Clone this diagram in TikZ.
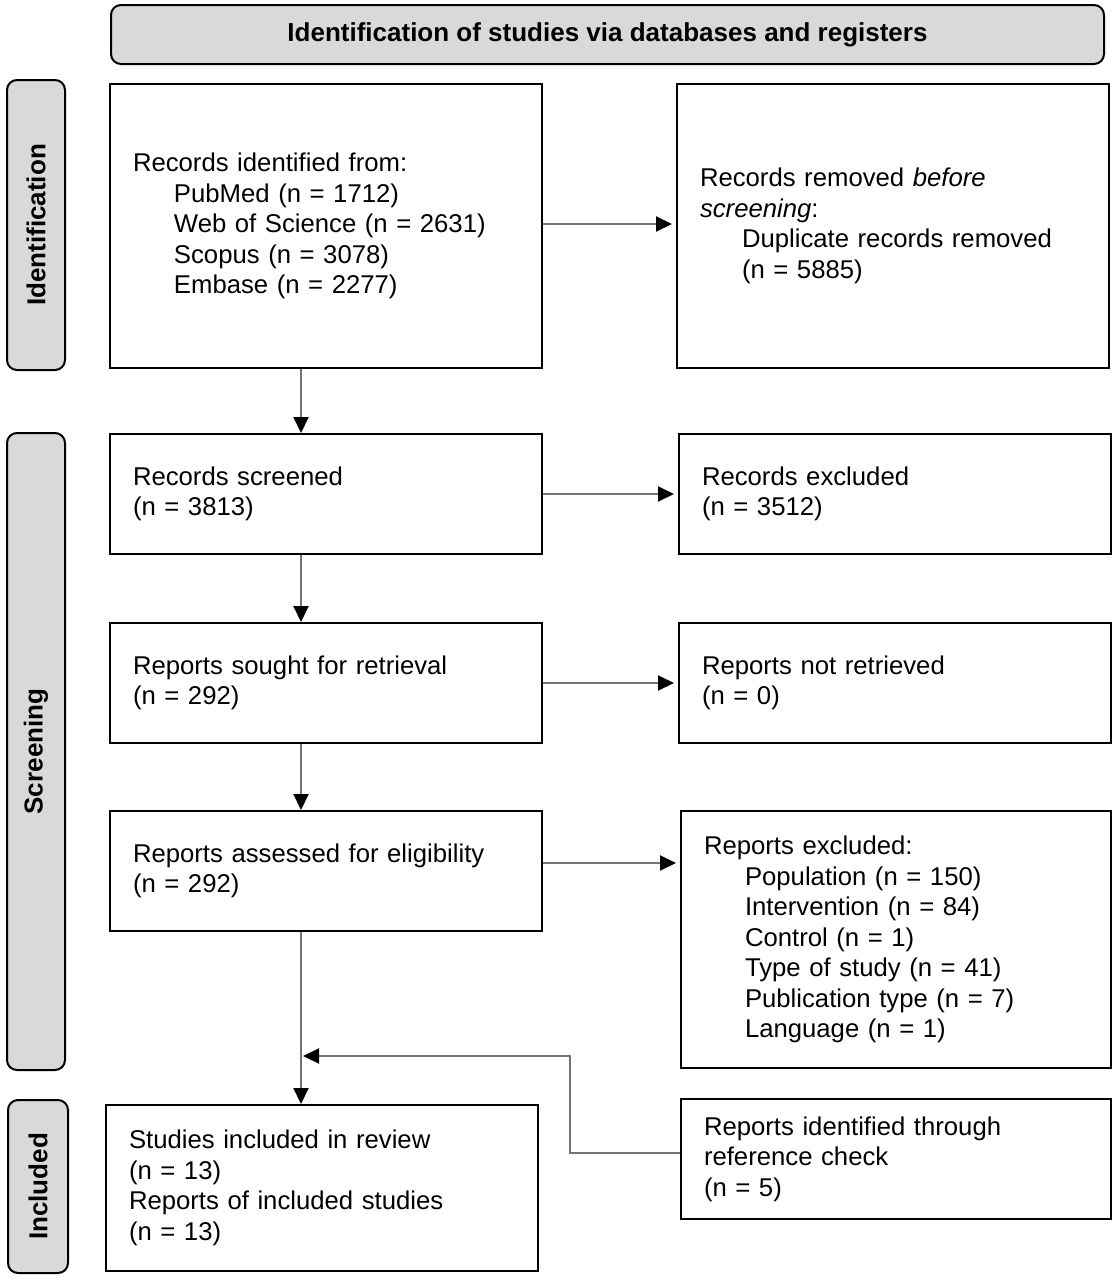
\documentclass[tikz,border=0pt]{standalone}
\usepackage{fontspec}
\setmainfont{Liberation Sans}
\usetikzlibrary{arrows.meta,calc}
\begin{document}
\begin{tikzpicture}[x=0.5pt,y=-0.5pt,
  txt/.style={font=\fontsize{12.85}{15.25}\selectfont},
  box/.style={txt,draw,line width=1pt,align=left,anchor=north west,inner xsep=11.5pt,inner ysep=0pt},
  bw/.style={text width=193pt},
  bn/.style={text width=192pt},
  grayband/.style={draw,line width=1pt,fill=black!15,rounded corners=5pt,inner sep=0pt,
    font=\fontsize{13}{15.25}\selectfont\bfseries},
  arr/.style={draw=black!55,line width=1pt,-{Triangle[length=8pt,width=7.5pt,color=black]}},
  harr/.style={arr,shorten >=2pt}
]
\useasboundingbox[fill=white] (0,0) rectangle (1117,1280);

% header and side bands
\node[grayband,minimum width=496.5pt,minimum height=29.5pt] (hdr) at (607.5,34.5)
  {Identification of studies via databases and registers};
\node[grayband,rotate=90,minimum width=145pt,minimum height=29pt] (sid) at (36,225) {Identification};
\node[grayband,rotate=90,minimum width=318.5pt,minimum height=29pt] (ssc) at (36,751.5) {Screening};
\node[grayband,rotate=90,minimum width=86.5pt,minimum height=30pt] (sin) at (38,1186.5) {Included};

% boxes
\node[box,bw,minimum height=142pt] (b1) at (109,83)
  {Records identified from:\\
   \hspace*{20.5pt}PubMed (n = 1712)\\
   \hspace*{20.5pt}Web of Science (n = 2631)\\
   \hspace*{20.5pt}Scopus (n = 3078)\\
   \hspace*{20.5pt}Embase (n = 2277)};
\node[box,bw,minimum height=142pt] (b2) at (676,83)
  {Records removed \textit{before}\\
   \textit{screening}:\\
   \hspace*{21pt}Duplicate records removed\\
   \hspace*{21pt}(n = 5885)};
\node[box,bw,minimum height=60pt] (b3) at (109,433) {Records screened\\(n = 3813)};
\node[box,bw,minimum height=60pt] (b4) at (678,433) {Records excluded\\(n = 3512)};
\node[box,bw,minimum height=60pt] (b5) at (109,622) {Reports sought for retrieval\\(n = 292)};
\node[box,bw,minimum height=60pt] (b6) at (678,622) {Reports not retrieved\\(n = 0)};
\node[box,bw,minimum height=60pt] (b7) at (109,810) {Reports assessed for eligibility\\(n = 292)};
\node[box,bn,minimum height=128.5pt] (b8) at (680,810)
  {Reports excluded:\\
   \hspace*{20.5pt}Population (n = 150)\\
   \hspace*{20.5pt}Intervention (n = 84)\\
   \hspace*{20.5pt}Control (n = 1)\\
   \hspace*{20.5pt}Type of study (n = 41)\\
   \hspace*{20.5pt}Publication type (n = 7)\\
   \hspace*{20.5pt}Language (n = 1)};
\node[box,bw,minimum height=83pt] (b9) at (105,1104)
  {Studies included in review\\(n = 13)\\Reports of included studies\\(n = 13)};
\node[box,bn,minimum height=60pt] (b10) at (680,1098)
  {Reports identified through\\reference check\\(n = 5)};

% connectors
\coordinate (vx) at (301,0);
\coordinate (kx) at (570,0);
\coordinate (jy) at (0,1056);
\draw[harr] ([yshift=1pt]b1.east) -- ([yshift=1pt]b1.east -| b2.west);
\draw[harr] (b3.east) -- (b3.east -| b4.west);
\draw[harr] (b5.east) -- (b5.east -| b6.west);
\draw[harr] ([yshift=4pt]b7.east) -- ([yshift=4pt]b7.east -| b8.west);
\draw[arr] (b1.south -| vx) -- (b3.north -| vx);
\draw[arr] (b3.south -| vx) -- (b5.north -| vx);
\draw[arr] (b5.south -| vx) -- (b7.north -| vx);
\draw[arr] (b7.south -| vx) -- (b9.north -| vx);
\draw[arr] ([yshift=3pt]b10.west) -- ([yshift=3pt]b10.west -| kx) -- (kx |- jy) -- ([xshift=1pt]vx |- jy);
\end{tikzpicture}
\end{document}
